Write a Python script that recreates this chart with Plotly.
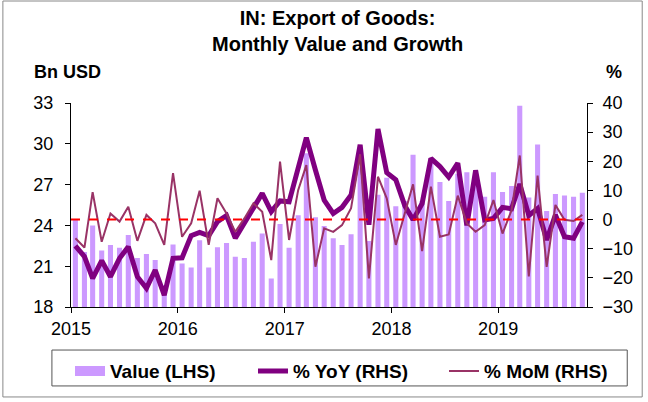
import pandas as pd
import plotly.graph_objects as go

# monthly data, Jan 2015 - Oct 2019
months = pd.date_range("2015-01-01", periods=58, freq="MS") + pd.Timedelta(days=15)

value_bn = [
    24.4, 22.05, 24.0, 22.15, 22.55, 22.35, 23.3, 21.6, 21.9, 21.45, 19.6, 22.6,
    21.2, 20.9, 22.9, 20.9, 22.4, 22.7, 21.7, 21.6, 22.8, 23.4, 20.1, 24.1,
    22.35, 24.75, 29.3, 24.6, 23.95, 23.05, 22.55, 23.35, 28.6, 22.85, 26.25, 27.5,
    25.4, 25.8, 29.2, 25.8, 28.9, 27.2, 25.8, 27.8, 27.9, 27.0, 26.1, 27.9,
    26.45, 26.9, 32.8, 26.05, 29.95, 25.05, 26.3, 26.2, 26.1, 26.4,
]

yoy_pct = [
    -9.0, -12.7, -20.2, -14.1, -19.6, -13.3, -9.3, -19.6, -23.6, -17.3, -25.9, -13.3,
    -13.1, -5.5, -4.4, -5.5, -0.7, 1.4, -6.4, -1.3, 3.9, 9.0, 2.7, 6.4,
    6.1, 18.1, 28.1, 17.0, 6.7, 2.1, 4.2, 8.4, 25.7, -1.8, 31.1, 16.1,
    13.7, 4.7, -0.1, 5.5, 21.0, 18.2, 14.6, 19.4, -2.0, 16.9, -0.1,
    0.4, 4.2, 3.7, 12.2, 1.4, 3.8, -7.0, 1.6, -5.9, -6.4, -0.8,
]

mom_pct = [
    -6.4, -9.6, 9.4, -7.6, 2.1, -0.7, 4.4, -7.3, 1.6, -1.3, -8.7, 15.9,
    -5.9, -1.3, 9.9, -8.7, 7.3, 2.1, -4.2, 0.4, 5.6, 2.7, -13.9, 19.9,
    -7.0, 10.1, 18.7, -16.2, -3.0, -4.2, -1.9, 3.9, 22.4, -20.2, 14.7, 7.3,
    -8.7, 2.1, 12.1, -10.8, 11.3, -5.9, -5.1, 8.2, -1.3, -4.2, -1.9, 6.7,
    -4.8, 3.2, 22.0, -19.5, 15.1, -16.2, 5.0, -0.1, -0.5, 1.6,
]

years = ["2015", "2016", "2017", "2018", "2019"]
left_ticks = [18, 21, 24, 27, 30, 33]
right_ticks = [-30, -20, -10, 0, 10, 20, 30, 40]

FONT = "Liberation Sans, Arial, sans-serif"
BAR_COL = "#cc99ff"

fig = go.Figure()
fig.add_trace(go.Bar(x=months, y=value_bn, name="Value (LHS)", showlegend=False,
                     marker=dict(color=BAR_COL, line_width=0), yaxis="y"))
# legend entry for the bars: wide block swatch like the original
fig.add_trace(go.Scatter(x=[None], y=[None], name="<b>Value (LHS)</b>", mode="lines",
                         line=dict(color=BAR_COL, width=14), yaxis="y",
                         legend="legend"))
fig.add_trace(go.Scatter(x=months, y=yoy_pct, name="<b>% YoY (RHS)</b>", mode="lines",
                         line=dict(color="#800080", width=5), yaxis="y2",
                         legend="legend2"))
fig.add_trace(go.Scatter(x=months, y=mom_pct, name="<b>% MoM (RHS)</b>", mode="lines",
                         line=dict(color="#993366", width=2), yaxis="y2",
                         legend="legend3"))

# zero line on the right axis
fig.add_shape(type="line", xref="x", yref="y2", x0="2015-01-01", x1=months[-1],
              y0=0, y1=0, line=dict(color="#ff0000", width=2, dash="dash"))

# legend box and outer frame
fig.add_shape(type="rect", xref="paper", yref="paper", x0=-0.037, x1=1.078,
              y0=-0.387, y1=-0.211, line=dict(color="#555555", width=1))
fig.add_shape(type="rect", xref="paper", yref="paper", x0=-0.132, x1=1.107,
              y0=-0.441, y1=1.5, line=dict(color="#888888", width=1))

fig.add_annotation(text="<b>IN: Export of Goods:<br>Monthly Value and Growth</b>",
                   xref="paper", yref="paper", x=0.517, y=1.48, xanchor="center",
                   yanchor="top", showarrow=False, font=dict(size=20, color="black"))
fig.add_annotation(text="<b>Bn USD</b>", xref="paper", yref="paper", x=-0.076, y=1.152,
                   xanchor="left", yanchor="middle", showarrow=False,
                   font=dict(size=18, color="black"))
fig.add_annotation(text="<b>%</b>", xref="paper", yref="paper", x=1.052, y=1.152,
                   xanchor="center", yanchor="middle", showarrow=False,
                   font=dict(size=18, color="black"))

leg = dict(orientation="h", xref="container", yref="container", xanchor="left",
           y=0.124, yanchor="top", font=dict(size=19), bgcolor="rgba(0,0,0,0)")

fig.update_layout(
    width=648, height=402,
    margin=dict(l=71, r=61, t=103, b=95, autoexpand=False),
    paper_bgcolor="white", plot_bgcolor="white",
    font=dict(family=FONT, size=18, color="black"),
    bargap=0.38,
    showlegend=True,
    legend=dict(leg, x=70 / 648),
    legend2=dict(leg, x=253 / 648),
    legend3=dict(leg, x=444 / 648),
    xaxis=dict(type="date", range=["2015-01-01", "2019-11-01"],
               tickvals=[f"{y}-01-01" for y in years], ticktext=years,
               ticks="outside", ticklen=5, tickcolor="black",
               showline=True, linecolor="black", linewidth=1, showgrid=False,
               zeroline=False),
    yaxis=dict(range=[18, 33], tickvals=left_ticks, ticks="outside", ticklen=5,
               tickcolor="black", showline=True, linecolor="black", linewidth=1,
               showgrid=False, zeroline=False, ticklabelstandoff=8),
    yaxis2=dict(range=[-30, 40], tickvals=right_ticks, overlaying="y", side="right",
                ticks="outside", ticklen=5, tickcolor="black", showline=True,
                linecolor="black", linewidth=1, showgrid=False, zeroline=False,
                ticklabelstandoff=6),
)

# page body has a default 8px margin; drop it so the figure sits at the corner
fig.write_html("out.html", config={"displayModeBar": False},
               post_script="document.body.style.margin='0px';")
